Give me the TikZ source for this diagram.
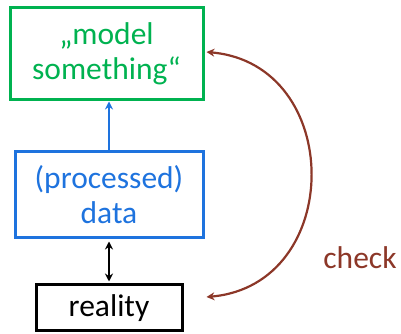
\documentclass[tikz,border=0pt]{standalone}
\usepackage{fontspec}
\setmainfont{Carlito}
\usetikzlibrary{arrows.meta,calc}
\definecolor{mgreen}{RGB}{0,178,80}
\definecolor{mblue}{RGB}{30,115,222}
\definecolor{mbrown}{RGB}{140,55,40}
\tikzset{
  box/.style={draw, line width=3pt, align=center, inner sep=0pt,
    font=\fontsize{31.5}{35}\selectfont},
  tip/.style={Stealth[length=8pt,width=8pt]},
  link/.style={line width=2.2pt, -{Stealth[length=8pt,width=8pt]}},
}
\begin{document}
\begin{tikzpicture}[x=1pt,y=1pt]
\useasboundingbox (0,0) rectangle (401,334);
\node[box, mgreen, text=mgreen, minimum width=193pt, minimum height=92pt]
  (model) at (106.5,280) {„model\\something“};
\node[box, mblue, text=mblue, minimum width=188pt, minimum height=86pt]
  (data) at (109,139) {(processed)\\data};
\node[box, black, minimum width=146pt, minimum height=46pt]
  (real) at (109,26) {reality};
\node[text=mbrown, font=\fontsize{31.5}{35}\selectfont] (check) at (360,76) {check};
\coordinate (chk) at ($(real.east)+(23,11)$);
\coordinate (mdl) at ($(model.east)+(2,2)$);
\draw[link, mblue] (data.north) -- (data.north |- model.south);
\draw[link, black, {Stealth[length=8pt,width=8pt]}-{Stealth[length=8pt,width=8pt]}]
  ($(data.south)+(0,-2)$) -- ($(real.north)+(0,2)$);
\draw[link, mbrown, {Stealth[length=8pt,width=8pt]}-{Stealth[length=8pt,width=8pt]}]
  (mdl) .. controls (345,270) and (345,49) .. (chk);
\end{tikzpicture}
\end{document}
